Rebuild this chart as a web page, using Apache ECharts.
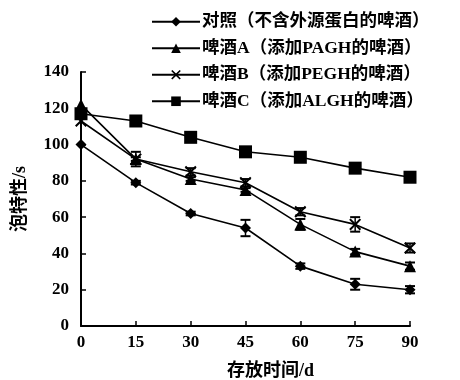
<!DOCTYPE html>
<html><head><meta charset="utf-8">
<script src="https://cdn.jsdelivr.net/npm/echarts@6/dist/echarts.min.js"></script>
<style>html,body{margin:0;padding:0;background:#fff}#c{width:460px;height:380px}</style>
</head><body><div id="c"></div>
<script>
const days = [0, 15, 30, 45, 60, 75, 90];
const seriesNames = ['对照（不含外源蛋白的啤酒）', '啤酒A（添加PAGH的啤酒）', '啤酒B（添加PEGH的啤酒）', '啤酒C（添加ALGH的啤酒）'];
const controlVals = [100, 79, 62, 54, 33, 23, 20];
const beerA = [122, 92, 81, 75, 56, 41, 33];
const beerB = [113, 92, 85, 79, 63, 56, 43];
const beerC = [117, 113, 104, 96, 93, 87, 82];
const controlErr = [0, 1, 1, 4.5, 1.5, 3, 2];
const errA = [0, 1, 1, 1, 3, 1.5, 2];
const errB = [0, 4, 2, 2, 2, 4, 2.5];
const errC = [0, 0, 0, 0, 0, 0, 0];
const yTicks = {min: 0, max: 140, interval: 20};
const xTicks = {min: 0, max: 90, interval: 15};

const FONT = "'Liberation Serif','Noto Sans CJK SC',serif";
const xMark = 'path://M0,1.2L1.2,0L5,3.8L8.8,0L10,1.2L6.2,5L10,8.8L8.8,10L5,6.2L1.2,10L0,8.8L3.8,5Z';
const symbols = ['diamond', 'triangle', xMark, 'rect'];
const sizes = [11, 12, 12, 13];
const vals = [controlVals, beerA, beerB, beerC];
const errs = [controlErr, errA, errB, errC];

const series = [];
vals.forEach((v, i) => {
  series.push({
    name: seriesNames[i], type: 'line', data: days.map((d, k) => [d, v[k]]),
    symbol: symbols[i], symbolSize: sizes[i], showSymbol: true,
    lineStyle: {color: '#000', width: 1.6}, itemStyle: {color: '#000'},
    animation: false, z: 3
  });
  series.push({
    type: 'custom', animation: false, silent: true, z: 2,
    data: days.map((d, k) => [d, v[k] - errs[i][k], v[k] + errs[i][k]]).filter((r, k) => errs[i][k] > 0),
    renderItem: function (params, api) {
      const lo = api.coord([api.value(0), api.value(1)]);
      const hi = api.coord([api.value(0), api.value(2)]);
      const w = 5;
      return {type: 'group', children: [
        {type: 'line', shape: {x1: lo[0], y1: lo[1], x2: hi[0], y2: hi[1]}, style: {stroke: '#000', lineWidth: 1.5}},
        {type: 'line', shape: {x1: lo[0] - w, y1: lo[1], x2: lo[0] + w, y2: lo[1]}, style: {stroke: '#000', lineWidth: 2}},
        {type: 'line', shape: {x1: hi[0] - w, y1: hi[1], x2: hi[0] + w, y2: hi[1]}, style: {stroke: '#000', lineWidth: 2}}
      ]};
    }
  });
});

const chart = echarts.init(document.getElementById('c'));
chart.setOption({
  backgroundColor: '#fff',
  animation: false,
  grid: {left: 81, right: 50, top: 72, bottom: 54, containLabel: false, outerBoundsMode: 'none'},
  legend: {
    orient: 'vertical', left: 146, top: 8, itemGap: 9, itemWidth: 48, itemHeight: 12,
    data: seriesNames,
    textStyle: {fontFamily: FONT, fontSize: 17.5, fontWeight: 'bold', color: '#000', padding: [0, 0, 0, -3]}
  },
  xAxis: {
    type: 'value', min: xTicks.min, max: xTicks.max, interval: xTicks.interval,
    name: '存放时间/d', nameLocation: 'middle', nameGap: 36,
    nameTextStyle: {fontFamily: FONT, fontSize: 18, fontWeight: 'bold', color: '#000', padding: [0, 0, 0, 50]},
    axisLine: {lineStyle: {color: '#000', width: 2}},
    axisTick: {inside: true, length: 5, lineStyle: {color: '#000', width: 1.5}},
    axisLabel: {fontFamily: FONT, fontSize: 17, fontWeight: 'bold', color: '#000', margin: 8},
    splitLine: {show: false}
  },
  yAxis: {
    type: 'value', min: yTicks.min, max: yTicks.max, interval: yTicks.interval,
    name: '泡特性/s', nameLocation: 'middle', nameGap: 52, nameRotate: 90,
    nameTextStyle: {fontFamily: FONT, fontSize: 18, fontWeight: 'bold', color: '#000'},
    axisLine: {show: true, lineStyle: {color: '#000', width: 2}},
    axisTick: {show: true, inside: true, length: 5, lineStyle: {color: '#000', width: 1.5}},
    axisLabel: {fontFamily: FONT, fontSize: 17, fontWeight: 'bold', color: '#000', margin: 12},
    splitLine: {show: false}
  },
  series: series
});
</script></body></html>
